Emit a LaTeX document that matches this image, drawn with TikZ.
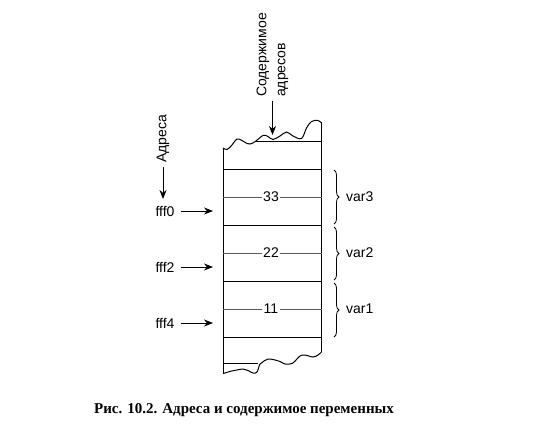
\documentclass[tikz,border=0pt]{standalone}
\usepackage{fontspec}
\setmainfont{Liberation Sans}
\newfontfamily\captionfont{Liberation Serif}
\usetikzlibrary{decorations.pathreplacing,arrows.meta}

\begin{document}
\begin{tikzpicture}[x=1pt,y=-1pt]
  \tikzset{
    cellline/.style={line width=1pt},
    valline/.style={line width=0.5pt, black!65},
    val/.style={fill=white, inner sep=1.5pt, font=\fontsize{14}{14}\selectfont},
    lbl/.style={font=\fontsize{14}{19}\selectfont, inner sep=0pt},
    ptr/.style={-{Stealth[length=9pt,width=7pt]}, line width=0.8pt},
    vbrace/.style={decorate, decoration={brace, amplitude=5pt}, line width=0.8pt}
  }
  \useasboundingbox (0,0) rectangle (540,429);

  % memory column
  \draw[cellline] (223,374) -- (223,148);
  \draw[cellline] (321.5,122) -- (321.5,352);
  \draw[cellline] plot[smooth, tension=0.6] coordinates {(223,148) (227,149.5) (232,145) (237,139) (242,140.5) (247,143.5) (250,144) (255,141.7) (263,135.5) (268,136.5) (273,139.5) (280,136) (286.5,132) (293,136) (301.5,138.5) (306.5,128) (311.5,121.5) (318,120.5) (321.5,123)};
  \draw[cellline] plot[smooth, tension=0.6] coordinates {(321.5,352) (318,355) (313,357) (305,355) (300,356) (296.5,359.5) (292,363.5) (285,364) (280,361.5) (273,359.5) (268,359) (264,361) (260,364) (257,372) (253,373) (248,370.5) (243,369) (237,370) (231.5,371) (225,373) (223,373.5)};
  \draw[cellline] (255,141.7) -- (321.5,141.7);
  \draw[cellline] (223,363) -- (258,363);
  \foreach \y in {169,225,281,337}
    \draw[cellline] (223,\y) -- (321.5,\y);

  % values
  \foreach \y/\v/\n in {197/33/c,253/22/b,309/11/a}{
    \draw[valline] (223,\y) -- (321.5,\y);
    \node[val] (val\n) at (271,\y) {\v};
  }

  % variables
  \draw[vbrace] (334,170) -- (334,224);
  \draw[vbrace] (334,227) -- (334,280);
  \draw[vbrace] (334,283) -- (334,337);
  \node[lbl, anchor=west] (varc) at (346,197) {var3};
  \node[lbl, anchor=west] (varb) at (346,253) {var2};
  \node[lbl, anchor=west] (vara) at (346,309) {var1};

  % addresses
  \node[lbl] (fffa) at (165,211) {fff0};
  \node[lbl] (fffb) at (165,267) {fff2};
  \node[lbl] (fffc) at (165,323) {fff4};
  \coordinate (cella) at (213,211);
  \coordinate (cellb) at (213,267);
  \coordinate (cellc) at (213,323);
  \draw[ptr] ([xshift=6pt]fffa.east) -- (cella);
  \draw[ptr] ([xshift=6pt]fffb.east) -- (cellb);
  \draw[ptr] ([xshift=6pt]fffc.east) -- (cellc);

  % headings
  \node[lbl, rotate=90] (addr) at (163,139) {Адреса};
  \coordinate (addrtip) at (163,199);
  \draw[ptr] ([yshift=-4pt]addr.west) -- (addrtip);
  \node[lbl, rotate=90, align=left] (content) at (272.5,55) {Содержимое\\адресов};
  \coordinate (contenttip) at (272.5,135);
  \draw[ptr] ([yshift=-4pt]content.west) -- (contenttip);

  % caption
  \node[font=\captionfont\bfseries\fontsize{15}{16}\selectfont] (caption) at (244,410) {Рис. 10.2. Адреса и содержимое переменных};
\end{tikzpicture}
\end{document}
